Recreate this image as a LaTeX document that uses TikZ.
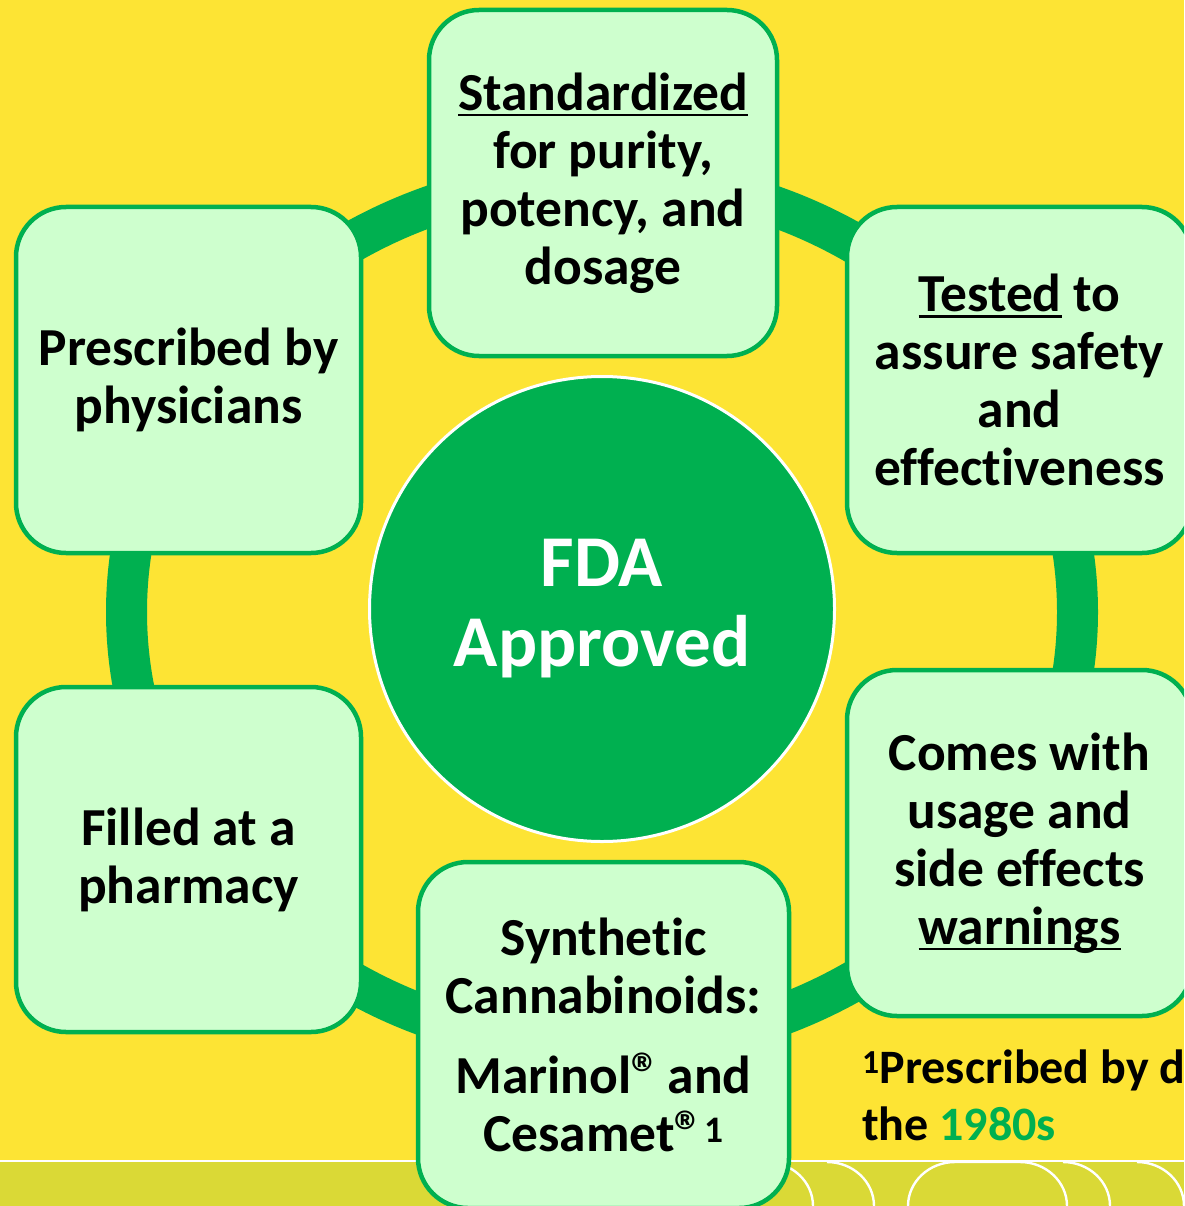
\documentclass[tikz,border=0pt]{standalone}
\usepackage{fontspec}
\setmainfont{Carlito}[Ligatures={NoCommon}]
\definecolor{bgyellow}{RGB}{253,228,52}
\definecolor{stripcol}{RGB}{218,217,54}
\definecolor{ringgreen}{RGB}{0,176,80}
\definecolor{boxfill}{RGB}{206,255,206}
\newsavebox\ulbox
\newcommand\myul[1]{\sbox\ulbox{#1}\rlap{\rule[-6pt]{\wd\ulbox}{2.6pt}}\usebox\ulbox}
\newcommand\regmark{{\fontsize{58}{58}\selectfont ®}}
\tikzset{
  stepbox/.style={draw=ringgreen, fill=boxfill, line width=4.5pt, rounded corners=50pt,
    inner sep=0pt, align=center, font=\fontsize{53.5}{58}\selectfont\bfseries},
  ring/.style={draw=ringgreen, line width=41pt},
  stripline/.style={draw=white, line width=2.4pt},
  fnote/.style={anchor=base west, inner sep=0pt, font=\fontsize{48}{56}\selectfont\bfseries}
}
\begin{document}
\begin{tikzpicture}[x=1pt, y=-1pt]
\useasboundingbox (0,0) rectangle (1184,1206);
\begin{scope}
\clip (0,0) rectangle (1184,1206);
% background
\fill[bgyellow] (0,0) rectangle (1184,1206);
\fill[stripcol] (0,1162) rectangle (1184,1206);
\draw[stripline] (0,1161) -- (1184,1161);
\draw[stripline] (766,1162) arc[start angle=90, end angle=0, x radius=47pt, y radius=44pt];
\draw[stripline] (827,1162) arc[start angle=90, end angle=0, x radius=47pt, y radius=44pt];
\draw[stripline] (908,1206) arc[start angle=180, end angle=90, x radius=47pt, y radius=44pt]
   -- (1020,1162) arc[start angle=90, end angle=0, x radius=47pt, y radius=44pt];
\draw[stripline] (1063,1162) arc[start angle=90, end angle=0, x radius=47pt, y radius=44pt];
\draw[stripline] (1137,1162) arc[start angle=90, end angle=0, x radius=47pt, y radius=44pt];
% ring
\draw[ring] (602,612) ellipse [x radius=475.5pt, y radius=435pt];
% boxes
\node[stepbox, minimum width=348pt, minimum height=346pt] (std) at (603,183)
  {\myul{Standardized}\\for purity,\\potency, and\\dosage};
\node[stepbox, minimum width=345pt, minimum height=346pt] (tested) at (1019.5,380)
  {\myul{Tested} to\\assure safety\\and\\effectiveness};
\node[stepbox, minimum width=345pt, minimum height=346pt] (comes) at (1019.5,843)
  {Comes with\\usage and\\side effects\\\myul{warnings}};
\node[stepbox, minimum width=371pt, minimum height=346pt] (synth) at (603.5,1035)
  {Synthetic\\Cannabinoids:\\[22pt]Marinol\regmark\kern-5pt{} and\\Cesamet\regmark\textsuperscript{1}};
\node[stepbox, minimum width=345pt, minimum height=345pt] (filled) at (188.5,859.5)
  {Filled at a\\pharmacy};
\node[stepbox, minimum width=345pt, minimum height=346pt] (presc) at (188.5,380)
  {Prescribed by\\physicians};
% centre
\node[circle, fill=ringgreen, draw=white, line width=3pt, minimum size=465pt, inner sep=0pt,
  align=center, text=white, font=\fontsize{73}{80}\selectfont\bfseries] (fda) at (602,609)
  {FDA\\Approved};
% footnote
\node[fnote] (fn1) at (862,1083) {\textsuperscript{1}Prescribed by d};
\node[fnote] (fn2) at (862,1140) {the \textcolor{ringgreen}{1980s}};
\end{scope}
\end{tikzpicture}
\end{document}
